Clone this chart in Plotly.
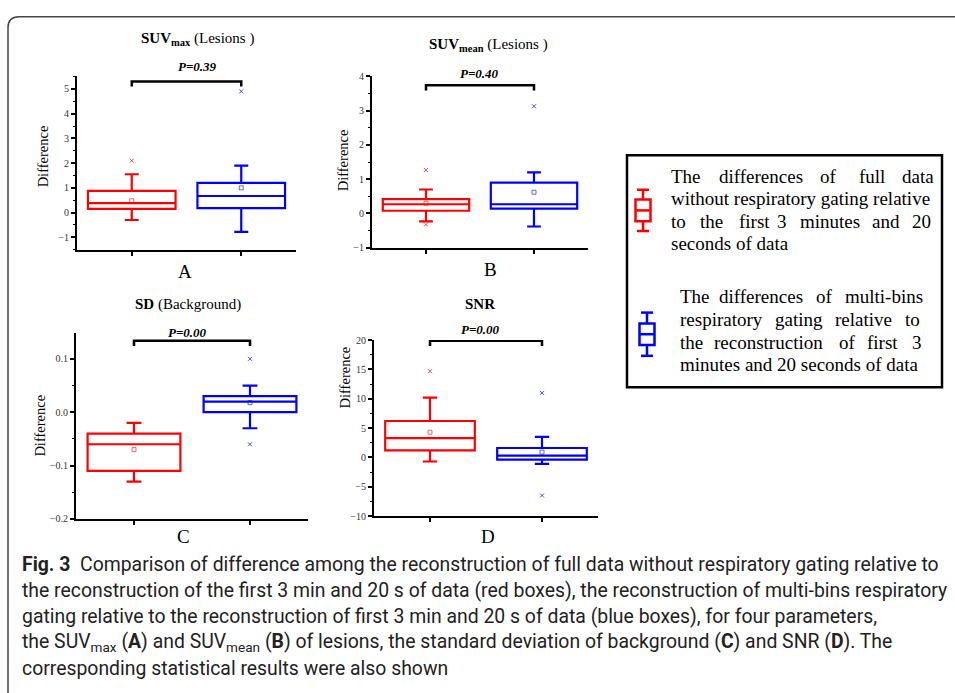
import plotly.graph_objects as go

W, H = 955, 693
def px(x): return x / W
def py(y): return 1 - y / H

# ---------------- data ----------------
panels = ["A", "B", "C", "D"]
positions = [1, 2]
# red = full data w/o gating ; blue = multi-bins gating
red_q1 = [0.15, 0.08, -0.11, 1.2]
red_median = [0.38, 0.27, -0.06, 3.3]
red_q3 = [0.88, 0.42, -0.04, 6.2]
red_low = [-0.30, -0.23, -0.13, -0.7]
red_high = [1.55, 0.70, -0.02, 10.2]
red_mean = [0.48, 0.30, -0.07, 4.3]
red_outliers = [[2.1], [1.27, -0.32], [], [14.7]]

blue_q1 = [0.18, 0.14, 0.0, -0.4]
blue_median = [0.67, 0.27, 0.02, 0.3]
blue_q3 = [1.20, 0.90, 0.03, 1.6]
blue_low = [-0.78, -0.38, -0.03, -1.1]
blue_high = [1.90, 1.20, 0.05, 3.5]
blue_mean = [1.00, 0.62, 0.018, 0.9]
blue_outliers = [[4.9], [3.13], [0.10, -0.06], [11.0, -6.5]]

p_values = ["P=0.39", "P=0.40", "P=0.00", "P=0.00"]
bracket_top = [5.3, 3.74, 0.134, 19.9]
bracket_leg = [5.1, 3.59, 0.124, 19.0]

y_ranges = [[-1.5, 5.53], [-1, 4], [-0.2, 0.148], [-10, 20]]
y_dtick = [1, 1, 0.1, 5]
y_minor = [0.5, 0.5, 0.05, 2.5]
y_fmt = ["d", "d", ".1f", "d"]

titles = ["<b>SUV<sub>max</sub></b> (Lesions )",
          "<b>SUV<sub>mean</sub></b> (Lesions )",
          "<b>SD</b> (Background)",
          "<b>SNR</b>"]

legend_red = ["The differences of full data",
              "without respiratory gating relative",
              "to the first 3 minutes and 20",
              "seconds of data"]
legend_blue = ["The differences of multi-bins",
               "respiratory gating relative to",
               "the reconstruction of first 3",
               "minutes and 20 seconds of data"]

caption = [
    "<b>Fig. 3</b>  Comparison of difference among the reconstruction of full data without respiratory gating relative to",
    "the reconstruction of the first 3 min and 20 s of data (red boxes), the reconstruction of multi-bins respiratory",
    "gating relative to the reconstruction of first 3 min and 20 s of data (blue boxes), for four parameters,",
    "the SUV<sub>max</sub> (<b>A</b>) and SUV<sub>mean</sub> (<b>B</b>) of lesions, the standard deviation of background (<b>C</b>) and SNR (<b>D</b>). The",
    "corresponding statistical results were also shown",
]

# ---------------- layout geometry (pixels) ----------------
dom_x = [(77, 296), (372, 588), (76, 308), (374, 598)]
dom_y = [(71, 248), (71.7, 246), (333, 522), (340, 519)]
title_pos = [(197, 34), (488, 40), (188, 304), (480, 303)]
p_pos = [(197, 62), (479, 69), (187, 332), (480, 329)]
letter_pos = [(185, 270), (490, 268), (183, 540), (488, 540)]
ylabel_pos = [(43, 153), (343, 157), (40, 427), (345, 378)]
# justified legend text: word start x for each line (None = natural, left aligned)
legend_red_words_x = [[669, 717, 818, 857, 900], None,
                      [669, 698, 737, 775, 798, 870, 910], None]
legend_blue_words_x = [[678, 717, 814, 843], [678, 773, 833, 903],
                       [678, 712, 837, 865, 910], None]

RED = "#ff0000"
BLUE = "#0000ff"
SERIF = "Liberation Serif"

fig = go.Figure()
layout = dict(width=W, height=H, margin=dict(l=0, r=0, t=0, b=0),
              paper_bgcolor="white", plot_bgcolor="white", showlegend=False)
annotations = []
shapes = []

def ann(text, x, y, size, family=SERIF, xanchor="center", angle=0, color="black"):
    annotations.append(dict(text=text, x=px(x), y=py(y), xref="paper", yref="paper",
                            xanchor=xanchor, yanchor="middle", showarrow=False,
                            textangle=angle, font=dict(family=family, size=size, color=color)))

for i in range(4):
    xa = "x" if i == 0 else f"x{i+1}"
    ya = "y" if i == 0 else f"y{i+1}"
    for (c, q1, med, q3, lo, hi, mn, outl, pos) in [
        (RED, red_q1[i], red_median[i], red_q3[i], red_low[i], red_high[i], red_mean[i], red_outliers[i], positions[0]),
        (BLUE, blue_q1[i], blue_median[i], blue_q3[i], blue_low[i], blue_high[i], blue_mean[i], blue_outliers[i], positions[1]),
    ]:
        fig.add_trace(go.Box(x=[pos], q1=[q1], median=[med], q3=[q3],
                             lowerfence=[lo], upperfence=[hi],
                             width=0.8, whiskerwidth=0.16,
                             line=dict(color=c, width=2.2),
                             fillcolor="rgba(255,255,255,0)",
                             boxpoints=False, xaxis=xa, yaxis=ya, hoverinfo="skip"))
        fig.add_trace(go.Scatter(x=[pos], y=[mn], mode="markers",
                                 marker=dict(symbol="square-open", size=4, color=c, opacity=0.6,
                                             line=dict(width=1)),
                                 xaxis=xa, yaxis=ya, cliponaxis=False))
        if outl:
            fig.add_trace(go.Scatter(x=[pos] * len(outl), y=outl, mode="markers",
                                     marker=dict(symbol="x-thin-open", size=4, color=c, opacity=0.7,
                                                 line=dict(width=1, color=c)),
                                     xaxis=xa, yaxis=ya, cliponaxis=False))
    # significance bracket
    fig.add_trace(go.Scatter(x=[positions[0], positions[0], positions[1], positions[1]],
                             y=[bracket_leg[i], bracket_top[i], bracket_top[i], bracket_leg[i]],
                             mode="lines", line=dict(color="black", width=2.5),
                             xaxis=xa, yaxis=ya, cliponaxis=False))

    x0, x1 = dom_x[i]
    y0, y1 = dom_y[i]
    key = "" if i == 0 else str(i + 1)
    layout["xaxis" + key] = dict(domain=[px(x0), px(x1)], range=[0.5, 2.5],
                                 anchor=ya, showgrid=False, zeroline=False,
                                 showline=True, linecolor="black", linewidth=2,
                                 tickmode="array", tickvals=positions, showticklabels=False,
                                 ticks="outside", ticklen=4, tickwidth=1.5, tickcolor="black")
    layout["yaxis" + key] = dict(domain=[py(y1), py(y0)], range=y_ranges[i],
                                 anchor=xa, showgrid=False, zeroline=False,
                                 showline=True, linecolor="black", linewidth=2,
                                 dtick=y_dtick[i], tick0=0, tickformat=y_fmt[i],
                                 ticks="outside", ticklen=4, tickwidth=1.5, tickcolor="black",
                                 minor=dict(dtick=y_minor[i], ticks="outside", ticklen=2,
                                            tickwidth=1, tickcolor="black"),
                                 tickfont=dict(family=SERIF, size=10, color="#333333"))

    ann(titles[i], title_pos[i][0], title_pos[i][1], 15)
    ann("<b><i>" + p_values[i] + "</i></b>", p_pos[i][0], p_pos[i][1], 13)
    ann(panels[i], letter_pos[i][0], letter_pos[i][1], 19)
    ann("Difference", ylabel_pos[i][0], ylabel_pos[i][1], 14.5, angle=-90)

# legend box
shapes.append(dict(type="rect", xref="paper", yref="paper",
                   x0=px(627), x1=px(942), y0=py(388), y1=py(152),
                   line=dict(color="black", width=2.5)))

def legend_icon(cx, top, bot, btop, bbot, color):
    s = []
    hw, cw = 7.5, 6
    s.append(dict(type="line", x0=px(cx), x1=px(cx), y0=py(top), y1=py(btop)))
    s.append(dict(type="line", x0=px(cx), x1=px(cx), y0=py(bbot), y1=py(bot)))
    s.append(dict(type="line", x0=px(cx - cw), x1=px(cx + cw), y0=py(top), y1=py(top)))
    s.append(dict(type="line", x0=px(cx - cw), x1=px(cx + cw), y0=py(bot), y1=py(bot)))
    s.append(dict(type="rect", x0=px(cx - hw), x1=px(cx + hw), y0=py(bbot), y1=py(btop)))
    mid = (btop + bbot) / 2
    s.append(dict(type="line", x0=px(cx - hw), x1=px(cx + hw), y0=py(mid), y1=py(mid)))
    for d in s:
        d.update(xref="paper", yref="paper", line=dict(color=color, width=2.5))
    return s

shapes += legend_icon(643, 187, 229, 197, 219, RED)
shapes += legend_icon(647, 312, 356, 323, 345, BLUE)

def legend_block(lines, words_x, left, top):
    for k, t in enumerate(lines):
        y = top + 23 * k
        wx = words_x[k]
        if wx is None:
            ann(t, left, y, 19, xanchor="left")
        else:
            for w, x in zip(t.split(" "), wx):
                ann(w, x, y, 19, xanchor="left")

legend_block(legend_red, legend_red_words_x, 669, 173)
legend_block(legend_blue, legend_blue_words_x, 678, 296)

# caption
for k, t in enumerate(caption):
    ann(t, 20, 568 + 26.5 * k, 19.4, family="Roboto", xanchor="left", color="#222222")

# frame
frame = (f"M {px(8)},{py(700)} L {px(8)},{py(22)} Q {px(8)},{py(11)} {px(19)},{py(11)} "
         f"L {px(960)},{py(11)}")
shapes.append(dict(type="path", path=frame, xref="paper", yref="paper",
                   line=dict(color="#444444", width=1.5)))

layout["annotations"] = annotations
layout["shapes"] = shapes
fig.update_layout(**layout)
fig.write_html("out.html", config={"displayModeBar": False},
               post_script="document.body.style.margin='0';")
